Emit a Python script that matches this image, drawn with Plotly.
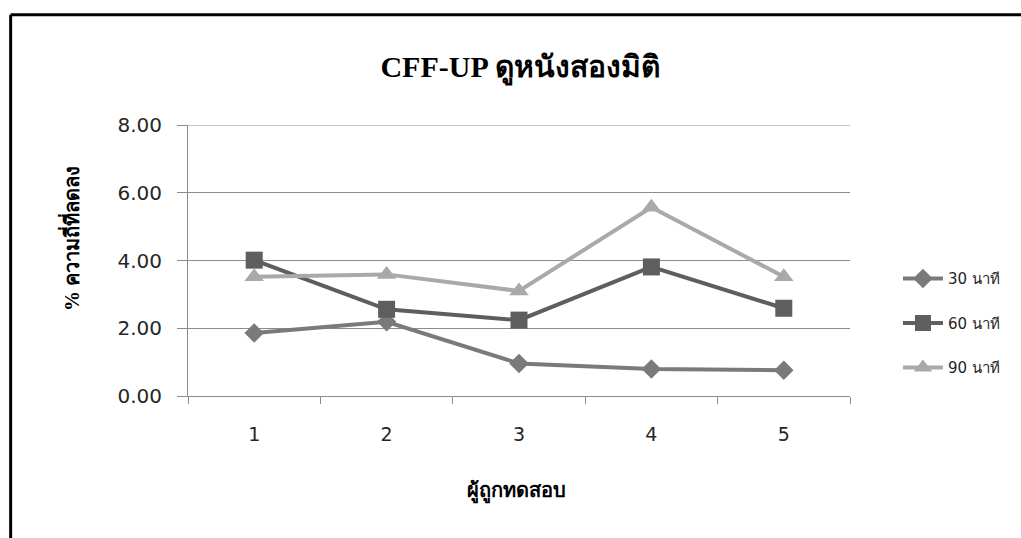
import plotly.graph_objects as go

# Subjects on the x axis and the three viewing durations
subjects = ["1", "2", "3", "4", "5"]
series_names = ["30 นาที", "60 นาที", "90 นาที"]

# Percentage of frequency reduction per subject
values_30 = [1.86, 2.19, 0.96, 0.80, 0.76]
values_60 = [4.01, 2.56, 2.24, 3.81, 2.59]
values_90 = [3.52, 3.59, 3.10, 5.57, 3.52]

y_ticks = [0, 2, 4, 6, 8]
y_tick_text = ["0.00", "2.00", "4.00", "6.00", "8.00"]

styles = [
    dict(color="#7a7a7a", symbol="diamond", size=15),
    dict(color="#5e5e5e", symbol="square", size=17),
    dict(color="#a9a9a9", symbol="triangle-up", size=17),
]

fig = go.Figure()
for i, (name, vals, st) in enumerate(zip(series_names, [values_30, values_60, values_90], styles)):
    fig.add_trace(go.Scatter(
        x=subjects, y=vals, name=name, mode="lines+markers",
        line=dict(color=st["color"], width=4),
        marker=dict(symbol=st["symbol"], size=st["size"], color=st["color"]),
        legendgroup=f"g{i}",
    ))

# Plot area in pixels: left 187.5, right 850, top 124.5, bottom 396
L, R, T, B = 187.5, 850.0, 124.5, 396.0
W, H = R - L, B - T
def px(x):
    return (x - L) / W
def py(y):
    return (B - y) / H

GRID = "#8c8c8c"

fig.update_layout(
    width=1021, height=538,
    margin=dict(l=L, r=1021 - R, t=T, b=538 - B),
    paper_bgcolor="white", plot_bgcolor="white",
    title=dict(
        text="<b>CFF-UP ดูหนังสองมิติ</b>",
        x=520 / 1021, xanchor="center", y=1 - 66 / 538, yanchor="middle",
        font=dict(family="Liberation Serif, Times New Roman, serif", size=30, color="black"),
    ),
    xaxis=dict(
        type="category", tickson="boundaries", ticks="outside", ticklen=7,
        tickcolor=GRID, showgrid=False, showline=True, linecolor=GRID,
        linewidth=1, tickfont=dict(family="DejaVu Sans", size=19, color="#262626"),
        ticklabelstandoff=21, range=[-0.5, 4.5], zeroline=False,
    ),
    yaxis=dict(
        range=[0, 8], tickvals=y_ticks, ticktext=y_tick_text,
        ticks="outside", ticklen=10, tickcolor=GRID,
        showgrid=True, gridcolor=GRID, gridwidth=1,
        showline=True, linecolor=GRID, linewidth=1, zeroline=False,
        tickfont=dict(family="DejaVu Sans", size=20, color="#262626"),
        ticklabelstandoff=11,
    ),
    legend=dict(
        x=px(898), xanchor="left", y=py(262), yanchor="top",
        font=dict(family="DejaVu Sans", size=15, color="#262626"),
        tracegroupgap=22, traceorder="grouped", bgcolor="rgba(0,0,0,0)",
        itemwidth=40,
    ),
    showlegend=True,
)

# Top gridline at the upper end of the value axis
fig.add_shape(type="line", xref="paper", yref="y",
              x0=0, x1=1, y0=y_ticks[-1], y1=y_ticks[-1],
              line=dict(color=GRID, width=1), layer="below")

# Axis titles
fig.add_annotation(
    text="<b>% ความถี่ที่ลดลง</b>", xref="paper", yref="paper",
    x=px(70), y=py(238), textangle=-90, showarrow=False,
    xanchor="center", yanchor="middle",
    font=dict(family="Liberation Serif, Times New Roman, serif", size=20, color="black"),
)
fig.add_annotation(
    text="<b>ผู้ถูกทดสอบ</b>", xref="paper", yref="paper",
    x=px(516), y=py(492), showarrow=False,
    xanchor="center", yanchor="middle",
    font=dict(family="Liberation Serif, Times New Roman, serif", size=20, color="black"),
)

# Chart frame (top and left edges are visible)
fig.add_shape(type="line", xref="paper", yref="paper",
              x0=px(10), x1=px(1040), y0=py(14), y1=py(14),
              line=dict(color="black", width=3))
fig.add_shape(type="line", xref="paper", yref="paper",
              x0=px(10), x1=px(10), y0=py(14), y1=py(560),
              line=dict(color="black", width=3))

fig.write_html("out.html")
